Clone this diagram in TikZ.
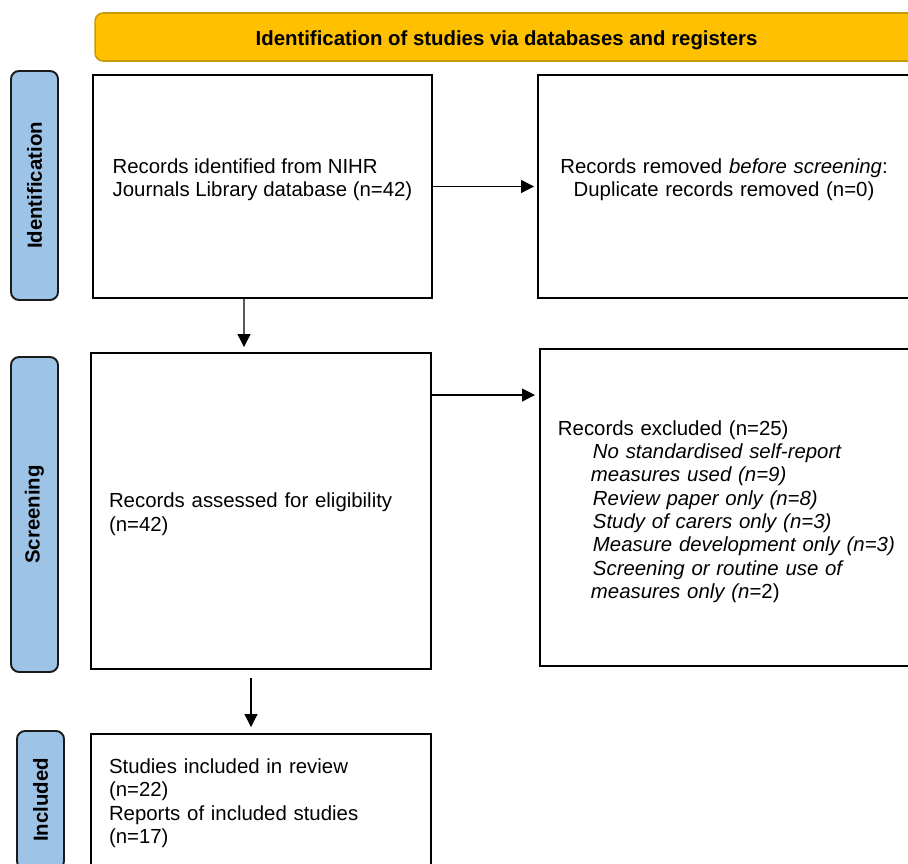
\documentclass[tikz,border=0pt]{standalone}
\usepackage{fontspec}
\setmainfont{Liberation Sans}
\usetikzlibrary{arrows.meta,calc}

\definecolor{bannergold}{HTML}{FFC000}
\definecolor{bannerline}{HTML}{C99A06}
\definecolor{stageblue}{HTML}{9DC3E6}
\definecolor{stageline}{HTML}{1A1A1A}

\begin{document}
\begin{tikzpicture}[x=0.02cm, y=-0.02cm,
    every node/.style={font=\fontsize{11.6}{13.3}\selectfont},
    box/.style={draw, line width=1.1pt, inner xsep=0.36cm, inner ysep=0pt, align=left},
    stage/.style={draw=stageline, fill=stageblue, line width=1.1pt, rounded corners=0.16cm, rotate=90,
        minimum height=0.94cm, font=\fontsize{11.6}{13.3}\selectfont\bfseries},
    arrow/.style={line width=0.6pt, -{Triangle[length=0.26cm, width=0.26cm]}}]
    \path[use as bounding box, clip] (0, 0) rectangle (908, 864);

    \node[draw=bannerline, fill=bannergold, line width=0.9pt, rounded corners=0.16cm, minimum width=16.46cm,
        minimum height=0.96cm, text height=12pt, text depth=2.5pt, font=\fontsize{11.6}{13.3}\selectfont\bfseries]
        (banner) at (506.5, 37) {Identification of studies via databases and registers};

    \node[stage, minimum width=4.58cm] (ident) at (34.5, 185.5) {Identification};
    \node[stage, minimum width=6.3cm] (screen) at (34.5, 514.5) {Screening};
    \node[stage, minimum width=2.76cm] (incl) at (40.5, 800) {Included};

    \node[box, minimum height=4.46cm, minimum width=6.78cm] (found) at (262.5, 186.5)
        {Records identified from NIHR\\Journals Library database (n=42)\\[-3pt]\mbox{}};
    \node[box, align=center, minimum height=4.46cm, text width=6.72cm] (dupes) at (724, 186.5)
        {Records removed \textit{before screening}:\\Duplicate records removed (n=0)\\[-3pt]\mbox{}};
    \node[box, minimum height=6.32cm, text width=6.08cm, text height=12pt] (assessed) at (261, 511)
        {Records assessed for eligibility\\(n=42)};
    \node[box, anchor=west, minimum height=6.34cm, text width=7.2cm, text height=13pt] (excluded) at (539, 507.5)
        {Records excluded (n=25)\\
        \hspace*{0.7cm}\textit{No standardised self-report}\\
        \hspace*{0.66cm}\textit{measures used (n=9)}\\
        \hspace*{0.7cm}\textit{Review paper only (n=8)}\\
        \hspace*{0.7cm}\textit{Study of carers only (n=3)}\\
        \hspace*{0.7cm}\textit{Measure development only (n=3)}\\
        \hspace*{0.7cm}\textit{Screening or routine use of}\\
        \hspace*{0.66cm}\textit{measures only (n}=2)};
    \node[box, minimum height=2.64cm, text width=6.08cm, text height=12pt] (included) at (261, 800)
        {Studies included in review\\(n=22)\\Reports of included studies\\(n=17)};

    \coordinate (excl) at ([yshift=2.32cm]assessed.east);
    \draw[arrow] (found.east) -- ([xshift=-0.06cm]dupes.west);
    \draw[arrow] (excl) -- ($(excl -| excluded.west) + (-4, 0)$);
    \draw[arrow] ([xshift=-0.37cm]found.south) -- ([xshift=-0.34cm, yshift=0.1cm]assessed.north);
    \draw[arrow] ([xshift=-0.2cm, yshift=-0.16cm]assessed.south) -- ([xshift=-0.2cm, yshift=0.12cm]included.north);
\end{tikzpicture}
\end{document}
